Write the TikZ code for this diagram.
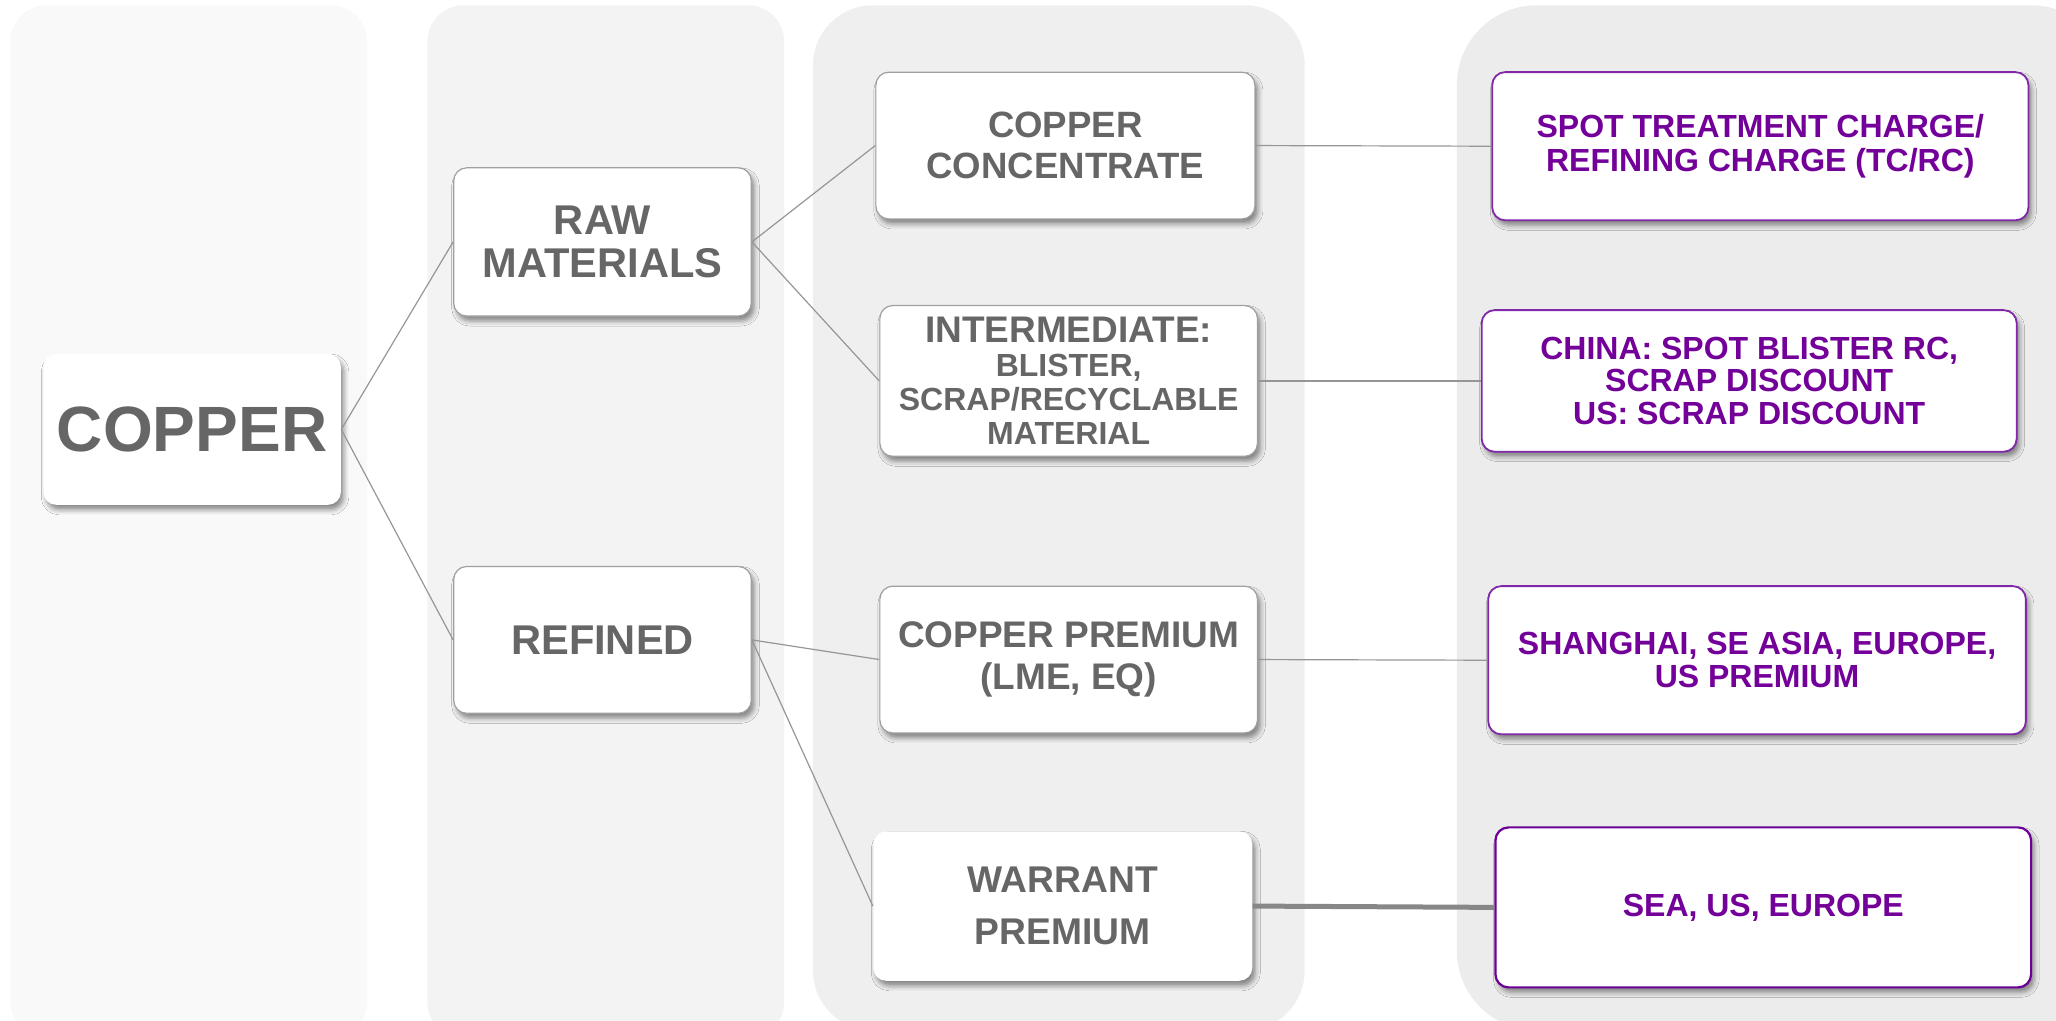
\documentclass[tikz,border=0pt]{standalone}
\usepackage{fontspec}
\setmainfont{Liberation Sans}
\usetikzlibrary{shadows.blur}
\definecolor{txtgray}{RGB}{102,102,102}
\definecolor{ptxt}{RGB}{115,0,153}
\definecolor{pborder}{RGB}{128,40,168}
\definecolor{pborderdark}{RGB}{108,0,150}
\definecolor{colA}{RGB}{249,249,249}
\definecolor{colB}{RGB}{243,243,243}
\definecolor{colC}{RGB}{239,239,239}
\definecolor{colD}{RGB}{236,236,236}
\definecolor{linegray}{RGB}{150,150,150}
\definecolor{boxline}{RGB}{160,160,160}
\begin{document}
\begin{tikzpicture}[x=0.6556pt,y=-0.6556pt,
  shad/.style={blur shadow={shadow xshift=1.5pt,shadow yshift=-2.5pt,shadow blur radius=2.5pt,shadow opacity=45}},
  gbox/.style={shad,fill=white,draw=boxline,line width=0.6pt,rounded corners=6.5pt,align=center,text=txtgray,inner sep=0pt},
  nbox/.style={shad,fill=white,draw=none,rounded corners=6.5pt,align=center,text=txtgray,inner sep=0pt},
  pbox/.style={shad,fill=white,draw=pborder,line width=0.9pt,rounded corners=6.5pt,align=center,text=ptxt,inner sep=0pt,
     font=\bfseries\fontsize{16}{16.8}\selectfont},
  conn/.style={draw=linegray,line width=0.6pt},
  thickconn/.style={draw=linegray!90!black,line width=2.5pt}
]
\useasboundingbox (0,0) rectangle (1568,778);
\clip (0,0) rectangle (1568,778);
% background columns
\fill[colA,rounded corners=18pt] (8,4) rectangle (280,792);
\fill[colB,rounded corners=18pt] (326,4) rectangle (598,792);
\fill[colC,rounded corners=30pt] (620,4) rectangle (995,786);
\fill[colD,rounded corners=40pt] (1111,4) rectangle (1610,786);

% nodes
\node[nbox,minimum width=148.8pt,minimum height=75.4pt,font=\bfseries\fontsize{32}{34}\selectfont] (copper) at (146.5,327.5) {COPPER};
\node[gbox,minimum width=148.8pt,minimum height=74.1pt,font=\bfseries\fontsize{20.8}{21.6}\selectfont] (raw) at (459.5,184.5) {RAW\\MATERIALS};
\node[gbox,minimum width=148.8pt,minimum height=73.4pt,font=\bfseries\fontsize{20.8}{21.6}\selectfont] (refined) at (459.5,488) {REFINED};
\node[gbox,minimum width=189.5pt,minimum height=73.4pt,font=\bfseries\fontsize{18.3}{20.3}\selectfont] (conc) at (812.5,111) {COPPER\\CONCENTRATE};
\node[gbox,minimum width=188.8pt,minimum height=75.4pt,font=\bfseries\fontsize{16}{17}\selectfont] (inter) at (815,290.5) {{\fontsize{18.5}{17}\selectfont INTERMEDIATE:}\\BLISTER,\\SCRAP/RECYCLABLE\\MATERIAL};
\node[gbox,minimum width=188.8pt,minimum height=73.4pt,font=\bfseries\fontsize{18.5}{21}\selectfont] (prem) at (815,503) {COPPER PREMIUM\\(LME, EQ)};
\node[nbox,minimum width=189.5pt,minimum height=74.7pt,font=\bfseries\fontsize{18.6}{26}\selectfont] (warr) at (810.5,691) {WARRANT\\PREMIUM};

\node[pbox,minimum width=268.1pt,minimum height=74.1pt] (spot) at (1342.5,111.5) {SPOT TREATMENT CHARGE/\\REFINING CHARGE (TC/RC)};
\node[pbox,minimum width=267.5pt,minimum height=70.8pt,font=\bfseries\fontsize{16}{16.4}\selectfont] (china) at (1334,290.5) {CHINA: SPOT BLISTER RC,\\SCRAP DISCOUNT\\US: SCRAP DISCOUNT};
\node[pbox,minimum width=268.8pt,minimum height=74.1pt,font=\bfseries\fontsize{16}{16.4}\selectfont] (shang) at (1340,503.5) {SHANGHAI, SE ASIA, EUROPE,\\US PREMIUM};
\node[pbox,draw=pborderdark,line width=1.1pt,minimum width=267.8pt,minimum height=80pt] (sea) at (1344.75,692) {SEA, US, EUROPE};

% connectors
\draw[conn] (copper.east) -- (raw.west);
\draw[conn] (copper.east) -- (refined.west);
\draw[conn] (raw.east) -- (conc.west);
\draw[conn] (raw.east) -- (inter.west);
\draw[conn] (refined.east) -- (prem.west);
\draw[conn] (refined.east) -- (warr.west);
\draw[conn] (conc.east) -- (spot.west);
\draw[conn] (inter.east) -- (china.west);
\draw[conn] (prem.east) -- (shang.west);
\draw[thickconn] (warr.east) -- (sea.west);
\end{tikzpicture}
\end{document}
